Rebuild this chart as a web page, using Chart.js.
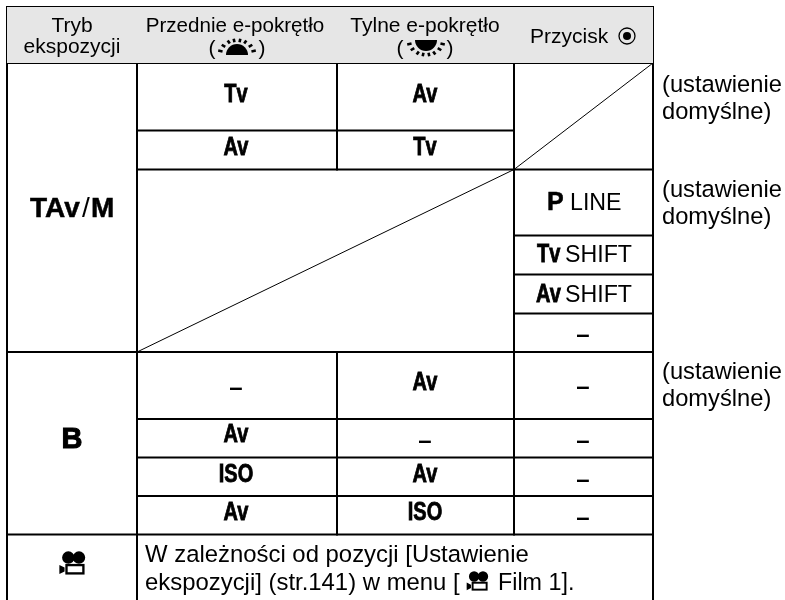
<!DOCTYPE html>
<html><head><meta charset="utf-8">
<style>html,body{margin:0;padding:0;background:#fff}canvas{display:block}</style>
<script src="https://cdn.jsdelivr.net/npm/chart.js@4/dist/chart.umd.js"></script>
</head><body><canvas id="c" width="785" height="600"></canvas>
<script>
// table geometry, in axis units
const colEdges=[7,137,337,514,653];
const rowEdges=[7,63,130.5,169.5,235.5,274.5,313.5,352,419,457.5,496,534.5,600];
// [row, fromCol, toCol]
const hRules=[[0,0,4],[1,0,4],[2,1,3],[3,1,4],[4,3,4],[5,3,4],[6,3,4],[7,0,4],[8,1,4],[9,1,4],[10,1,4],[11,0,4]];
// [col, fromRow, toRow]
const vRules=[[0,0,12],[1,0,12],[2,0,3],[2,7,11],[3,0,11],[4,0,12]];
// [fromCol,fromRow,toCol,toRow]
const diagonals=[[3,3,4,1],[1,7,3,3]];

const headerTexts=[["Tryb",72,32,"c",21],["ekspozycji",72,53,"c",21],["Przednie e-pokrętło",235,32,"c",20.6],["(",212,55,"c",21],[")",262,55,"c",21],["Tylne e-pokrętło",425,32,"c",21],["(",400,55,"c",21],[")",450,55,"c",21],["Przycisk",530,43,"l",21]];
const noteTexts=[["(ustawienie",662,92],["domyślne)",662,119],["(ustawienie",662,197],["domyślne)",662,224],["(ustawienie",662,379],["domyślne)",662,406]];
const footTexts=[["W zależności od pozycji [Ustawienie",145,562,23.9],["ekspozycji] (str.141) w menu [",145,590,23.9],["Film 1].",498,590,23.3]];
const modeTexts=[["Tv",236,102],["Av",425,102],["Av",236,155],["Tv",425,155],["Av",425,390],["Av",236,442],["ISO",236,482],["Av",425,482],["Av",236,520],["ISO",425,520]];
const dashTexts=[[236,388],[583,335],[583,387],[425,441],[583,441],[583,480],[583,518]];
const shiftTexts=[["Tv",537,262,"SHIFT",565],["Av",536,302,"SHIFT",565]];

function seg(x1,y1,x2,y2,w){return {data:[{x:x1,y:y1},{x:x2,y:y2}],borderColor:'#000',borderWidth:w,pointRadius:0,fill:false,tension:0,borderCapStyle:'square'};}
const datasets=[];
datasets.push({data:[{x:colEdges[0],y:rowEdges[0]},{x:colEdges[4],y:rowEdges[0]}],borderColor:'rgba(0,0,0,0)',backgroundColor:'#e6e6e6',pointRadius:0,fill:{value:rowEdges[1]}});
hRules.forEach(r=>datasets.push(seg(colEdges[r[1]],rowEdges[r[0]],colEdges[r[2]],rowEdges[r[0]],2)));
vRules.forEach(r=>datasets.push(seg(colEdges[r[0]],rowEdges[r[1]],colEdges[r[0]],rowEdges[r[2]],2)));
diagonals.forEach(d=>datasets.push(seg(colEdges[d[0]],rowEdges[d[1]],colEdges[d[2]],rowEdges[d[3]],1)));

const SANS='"Liberation Sans",Arial,sans-serif';
function narrow(ctx,t,x,y,align){ctx.save();ctx.translate(x,y);ctx.scale(0.8,1);ctx.font='bold 25px '+SANS;ctx.textAlign=align;ctx.lineWidth=.8;ctx.strokeStyle='#000';ctx.fillText(t,0,0);ctx.strokeText(t,0,0);ctx.restore();}
function heavy(ctx,t,x,y,size){ctx.font='bold '+size+'px '+SANS;ctx.lineWidth=.5;ctx.strokeStyle='#000';ctx.fillText(t,x,y);ctx.strokeText(t,x,y);}
function movie(ctx,x,y,s){ctx.save();ctx.translate(x,y);ctx.scale(s,s);ctx.fillStyle='#000';ctx.strokeStyle='#000';
 ctx.beginPath();ctx.arc(-3.6,-4.2,4.8,0,7);ctx.arc(4.6,-4.2,4.8,0,7);ctx.fill();
 ctx.lineWidth=1.8;ctx.strokeRect(-5,1.6,13,6.4);
 ctx.beginPath();ctx.moveTo(-10.5,1.5);ctx.lineTo(-6.5,3.5);ctx.lineTo(-6.5,6.5);ctx.lineTo(-10.5,8.5);ctx.fill();ctx.restore();}
function sun(ctx,x,y,down){ctx.save();ctx.translate(x,y);if(down)ctx.scale(1,-1);ctx.fillStyle='#000';ctx.strokeStyle='#000';
 ctx.beginPath();ctx.ellipse(0,6,11,11,0,Math.PI,0);ctx.fill();
 ctx.lineWidth=2.6;[-1.3,-.9,-.5,-.17,.17,.5,.9,1.3].forEach(a=>{const s=Math.sin(a),c=Math.cos(a);ctx.beginPath();ctx.moveTo(s*15,6-c*13);ctx.lineTo(s*19.5,6-c*16.5);ctx.stroke();});ctx.restore();}
const tablePlugin={id:'tableText',afterDatasetsDraw(chart){
 const ctx=chart.ctx,X=v=>chart.scales.x.getPixelForValue(v),Y=v=>chart.scales.y.getPixelForValue(v);
 ctx.save();ctx.fillStyle='#000';ctx.textBaseline='alphabetic';
 headerTexts.forEach(t=>{ctx.font=t[4]+'px '+SANS;ctx.textAlign=t[3]==='c'?'center':'left';ctx.fillText(t[0],X(t[1]),Y(t[2]));});
 ctx.textAlign='left';ctx.font='23.7px '+SANS;
 noteTexts.forEach(t=>ctx.fillText(t[0],X(t[1]),Y(t[2])));
 footTexts.forEach(t=>{ctx.font=t[3]+'px '+SANS;ctx.fillText(t[0],X(t[1]),Y(t[2]));});
 modeTexts.forEach(t=>narrow(ctx,t[0],X(t[1]),Y(t[2]),'center'));
 ctx.textAlign='center';ctx.font='bold 24px '+SANS;
 dashTexts.forEach(t=>ctx.fillText('–',X(t[0]),Y(t[1]+7)));
 ctx.textAlign='left';
 shiftTexts.forEach(t=>{narrow(ctx,t[0],X(t[1]),Y(t[2]),'left');ctx.font='23.2px '+SANS;ctx.fillText(t[3],X(t[4]),Y(t[2]));});
 heavy(ctx,'P',X(547),Y(210),25);ctx.font='23.2px '+SANS;ctx.fillText('LINE',X(570),Y(210));
 heavy(ctx,'TAv',X(30),Y(217),28);ctx.font='28px '+SANS;ctx.fillText('/',X(82),Y(217));heavy(ctx,'M',X(91),Y(217),28);
 ctx.textAlign='center';ctx.font='bold 29px '+SANS;ctx.lineWidth=1;ctx.strokeStyle='#000';ctx.fillText('B',X(72),Y(448));ctx.strokeText('B',X(72),Y(448));
 sun(ctx,X(237),Y(49),false);sun(ctx,X(426),Y(46),true);
 movie(ctx,X(73),Y(563),1.3);movie(ctx,X(478),Y(581),1.08);
 ctx.beginPath();ctx.arc(X(627),Y(36),8,0,7);ctx.lineWidth=1.3;ctx.stroke();ctx.beginPath();ctx.arc(X(627),Y(36),4,0,7);ctx.fill();
 ctx.restore();
}};
new Chart(document.getElementById('c'),{type:'line',data:{datasets},plugins:[tablePlugin],options:{responsive:false,animation:false,parsing:false,normalized:true,layout:{padding:0},
 plugins:{legend:{display:false},tooltip:{enabled:false},title:{display:false}},
 scales:{x:{type:'linear',min:0,max:785,display:false},y:{type:'linear',min:0,max:600,reverse:true,display:false}}}});
</script></body></html>
